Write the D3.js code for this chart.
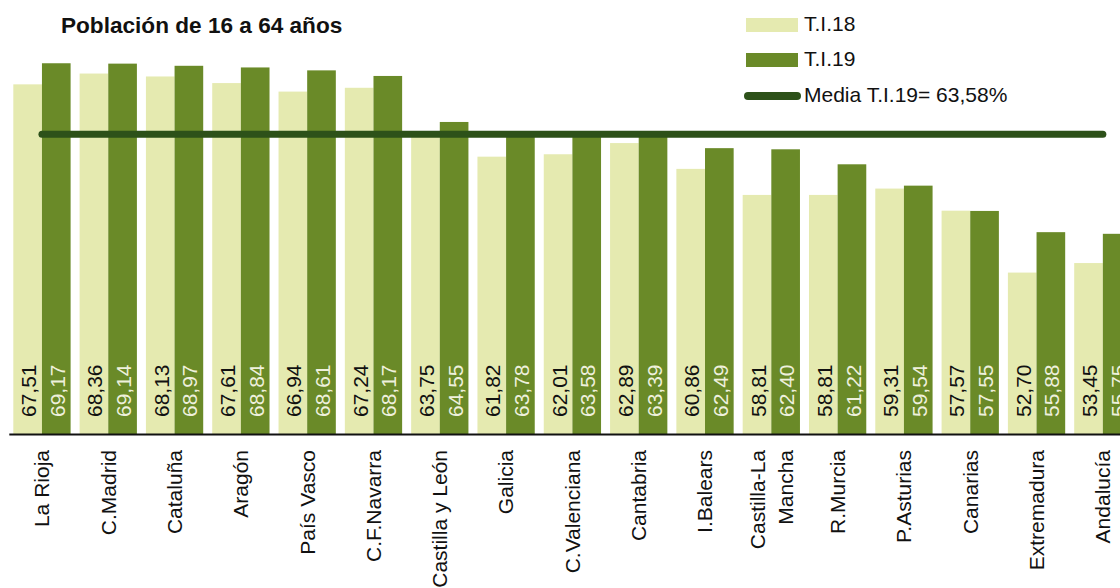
<!DOCTYPE html>
<meta charset="utf-8">
<html>
<head>
<title>Población de 16 a 64 años</title>
<style>
body { margin: 0; background: #fff; }
svg { display: block; font-family: "Liberation Sans", Arial, sans-serif; }
.title { font-weight: bold; font-size: 22.6px; fill: #111; }
.legend text { font-size: 21px; fill: #111; }
.val { font-size: 21px; }
.axis text { font-size: 21px; fill: #111; font-family: "Liberation Sans", Arial, sans-serif; }
.axis path { stroke: #111; stroke-width: 2; }
</style>
</head>
<body>
<svg class="chart" width="1120" height="588"></svg>

<script src="https://cdn.jsdelivr.net/npm/d3@7"></script>
<script>

const regions = ["La Rioja", "C.Madrid", "Cataluña", "Aragón", "País Vasco", "C.F.Navarra",
  "Castilla y León", "Galicia", "C.Valenciana", "Cantabria", "I.Balears", "Castilla-La\nMancha",
  "R.Murcia", "P.Asturias", "Canarias", "Extremadura", "Andalucía"]
const ti18 = [67.51, 68.36, 68.13, 67.61, 66.94, 67.24, 63.75, 61.82, 62.01, 62.89, 60.86, 58.81, 58.81, 59.31, 57.57, 52.70, 53.45]
const ti19 = [69.17, 69.14, 68.97, 68.84, 68.61, 68.17, 64.55, 63.78, 63.58, 63.39, 62.49, 62.40, 61.22, 59.54, 57.55, 55.88, 55.75]
const series = ["T.I.18", "T.I.19"]
const media = 63.58
const yDomain = [40, 70]

const colors = { "T.I.18": "#e5eab0", "T.I.19": "#6a8a28" }
const labelColors = { "T.I.18": "#111", "T.I.19": "#eef0dc" }
const mediaColor = "#2d5119"

const fmt = d3.formatLocale({ decimal: ",", thousands: ".", grouping: [3], currency: ["", "€"] }).format(".2f")

const svg = d3.select("svg.chart")

var x = d3.scaleBand()
  .domain(regions)
  .range([8.8, 1136])
  .paddingInner(0.136)
  .paddingOuter(0.068)

var xs = d3.scaleBand()
  .domain(series)
  .range([0, x.bandwidth()])

var y = d3.scaleLinear()
  .domain(yDomain)
  .range([434, 52.7])

var rows = regions.map((r, i) => ({ region: r, values: [
  { key: "T.I.18", value: ti18[i] },
  { key: "T.I.19", value: ti19[i] }
]}))

// bars
var groups = svg.append("g").attr("class", "bars")
  .selectAll("g")
  .data(rows)
  .enter().append("g")
  .attr("transform", (d) => "translate(" + x(d.region) + ",0)")

groups.selectAll("rect")
  .data((d) => d.values)
  .enter().append("rect")
  .attr("x", (d) => xs(d.key))
  .attr("width", xs.bandwidth())
  .attr("y", (d) => y(d.value))
  .attr("height", (d) => y(yDomain[0]) - y(d.value))
  .attr("fill", (d) => colors[d.key])

// media line
var first = regions[0], last = regions[regions.length - 1]
svg.append("line")
  .attr("x1", x(first) + x.bandwidth() / 2)
  .attr("x2", x(last) + x.bandwidth() / 2)
  .attr("y1", y(media))
  .attr("y2", y(media))
  .attr("stroke", mediaColor)
  .attr("stroke-width", 7)
  .attr("stroke-linecap", "round")

// value labels
groups.selectAll("text.val")
  .data((d) => d.values)
  .enter().append("text")
  .attr("class", "val")
  .attr("transform", (d) => "translate(" + (xs(d.key) + xs.bandwidth() / 2 + 1) + "," + (y(yDomain[0]) - 17) + ") rotate(-90)")
  .attr("dy", "0.36em")
  .attr("fill", (d) => labelColors[d.key])
  .text((d) => fmt(d.value))

// axis
var axis = svg.append("g")
  .attr("class", "axis")
  .attr("transform", "translate(0," + y(yDomain[0]) + ")")
  .call(d3.axisBottom(x).tickSize(0).tickSizeOuter(0))

axis.selectAll(".tick text")
  .attr("transform", "rotate(-90)")
  .attr("text-anchor", "end")
  .attr("x", -16)
  .attr("y", 0)
  .attr("dy", null)
  .each(function(d) {
    var lines = d.split("\n")
    var t = d3.select(this).text(null)
    lines.forEach((l, i) => {
      t.append("tspan")
        .attr("x", -16)
        .attr("dy", i == 0 ? (0.35 - (lines.length - 1) * 0.66) + "em" : "1.32em")
        .text(l)
    })
  })

// title
svg.append("text")
  .attr("class", "title")
  .attr("x", 61)
  .attr("y", 33)
  .text("Población de 16 a 64 años")

// legend
var legend = svg.append("g").attr("class", "legend")
series.forEach((s, i) => {
  legend.append("rect")
    .attr("x", 746).attr("y", 18 + i * 35)
    .attr("width", 52).attr("height", 14)
    .attr("fill", colors[s])
  legend.append("text")
    .attr("x", 804).attr("y", 31 + i * 35)
    .text(s)
})
legend.append("line")
  .attr("x1", 748).attr("x2", 797)
  .attr("y1", 96).attr("y2", 96)
  .attr("stroke", mediaColor)
  .attr("stroke-width", 8)
  .attr("stroke-linecap", "round")
legend.append("text")
  .attr("x", 804).attr("y", 102)
  .text("Media T.I.19= " + fmt(media) + "%")

</script>
</body>
</html>
